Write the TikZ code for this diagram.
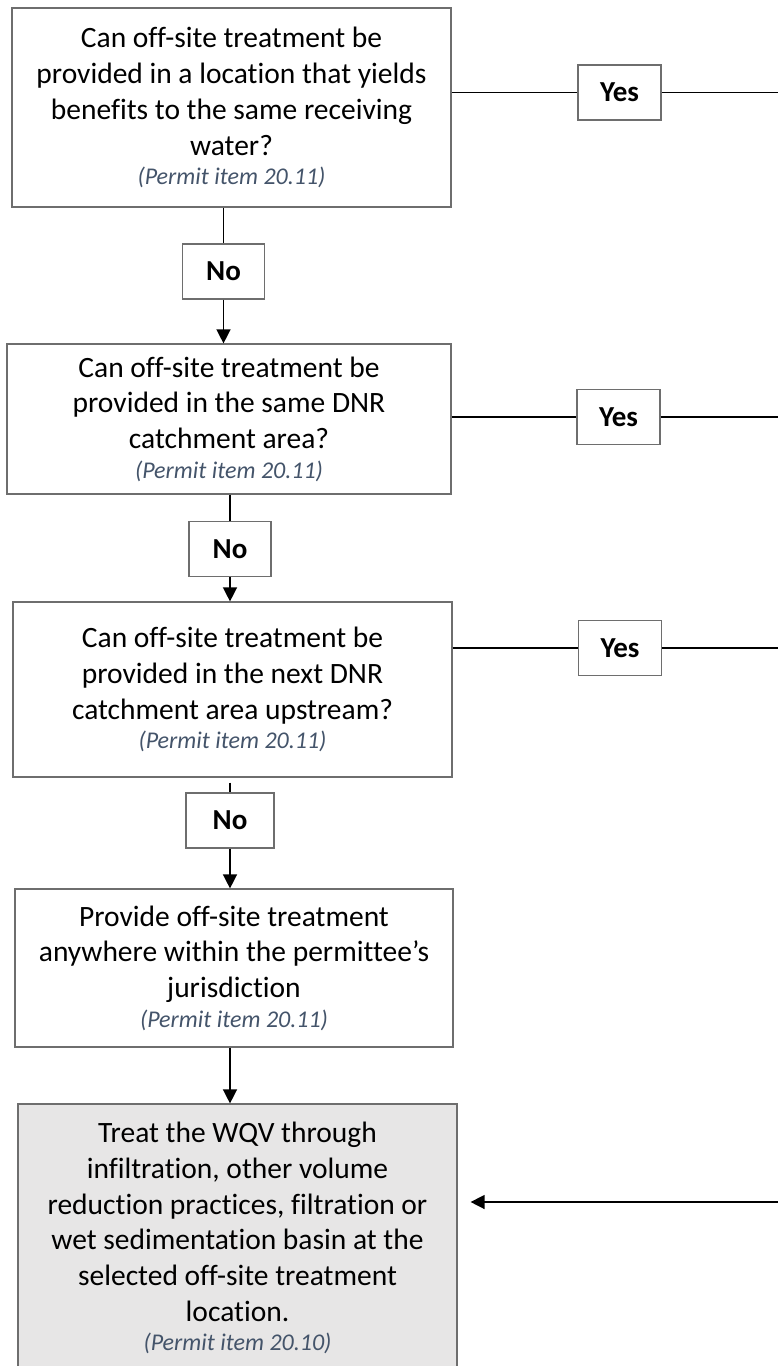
\documentclass[tikz,border=0pt]{standalone}
\usepackage{fontspec}
\setmainfont{Carlito}[Ligatures=CommonOff]
\usetikzlibrary{arrows.meta}
\definecolor{boxline}{HTML}{6E6E6E}
\definecolor{permitcol}{HTML}{44546A}
\definecolor{shade}{HTML}{E7E6E6}
\newcommand{\permitref}[1]{{\fontsize{24}{29}\selectfont\itshape\color{permitcol}#1}}
\begin{document}
\begin{tikzpicture}[x=1pt,y=-1pt,
  qbox/.style={draw=boxline, line width=1.2pt, rectangle, align=center, inner sep=0pt,
    font=\fontsize{29.5}{35.8}\selectfont, text=black},
  tagbox/.style={draw=boxline, line width=1.2pt, fill=white, rectangle,
    minimum width=82pt, minimum height=55pt, inner sep=0pt,
    font=\fontsize{29}{34}\selectfont\bfseries},
  conn/.style={line width=1.4pt, draw=black},
  arr/.style={conn, -{Triangle[length=14pt,width=14pt]}}]
\useasboundingbox (0,0) rectangle (778,1366);
\clip (0,0) rectangle (778,1366);

% main boxes
\node[qbox, minimum width=439pt, minimum height=199pt] (b1) at (231.5,107.5)
  {Can off-site treatment be\\provided in a location that yields\\benefits to the same receiving\\water?\\[-6.5pt]\permitref{(Permit item 20.11)}};
\node[qbox, minimum width=444pt, minimum height=150pt] (b2) at (229,419)
  {Can off-site treatment be\\provided in the same DNR\\catchment area?\\[-6.5pt]\permitref{(Permit item 20.11)}};
\node[qbox, minimum width=439pt, minimum height=175pt] (b3) at (232.5,689.5)
  {Can off-site treatment be\\provided in the next DNR\\catchment area upstream?\\[-6.5pt]\permitref{(Permit item 20.11)}};
\node[qbox, minimum width=438pt, minimum height=158pt] (b4) at (234,968)
  {Provide off-site treatment\\anywhere within the permittee’s\\jurisdiction\\[-6.5pt]\permitref{(Permit item 20.11)}};
\node[qbox, fill=shade, minimum width=439pt, minimum height=268pt] (b5) at (237.5,1238)
  {Treat the WQV through\\infiltration, other volume\\reduction practices, filtration or\\wet sedimentation basin at the\\selected off-site treatment\\location.\\[-6.5pt]\permitref{(Permit item 20.10)}};

% Yes tags
\node[tagbox, minimum width=83pt] (y1) at (619.5,92.5) {Yes};
\node[tagbox, minimum width=83pt] (y2) at (618.5,417) {Yes};
\node[tagbox, minimum width=83pt] (y3) at (620,648) {Yes};

% No tags
\node[tagbox] (n1) at (223.5,271.5) {No};
\node[tagbox] (n2) at (230,549) {No};
\node[tagbox, minimum width=88pt] (n3) at (230,820.5) {No};

% free ends at the right edge
\coordinate (r1) at (780,92.5);
\coordinate (r2) at (780,417);
\coordinate (r3) at (780,648);
\coordinate (r4) at (780,1202);

% Yes connectors
\draw[conn] (b1.east |- y1) -- (y1.west);
\draw[conn] (y1.east) -- (r1);
\draw[conn] (b2.east |- y2) -- (y2.west);
\draw[conn] (y2.east) -- (r2);
\draw[conn] (b3.east |- y3) -- (y3.west);
\draw[conn] (y3.east) -- (r3);

% No connectors
\draw[conn] (n1 |- b1.south) -- (n1.north);
\draw[arr] (n1.south) -- (n1 |- b2.north);
\draw[conn] (n2 |- b2.south) -- (n2.north);
\draw[arr] (n2.south) -- (n2 |- b3.north);
\draw[conn] ([yshift=-5pt]n3 |- b3.south) -- (n3.north);
\draw[arr] (n3.south) -- (n3 |- b4.north);
\draw[arr] (n3 |- b4.south) -- (n3 |- b5.north);

% return arrow
\draw[arr] (r4) -- ([xshift=13pt]b5.east |- r4);
\end{tikzpicture}
\end{document}
